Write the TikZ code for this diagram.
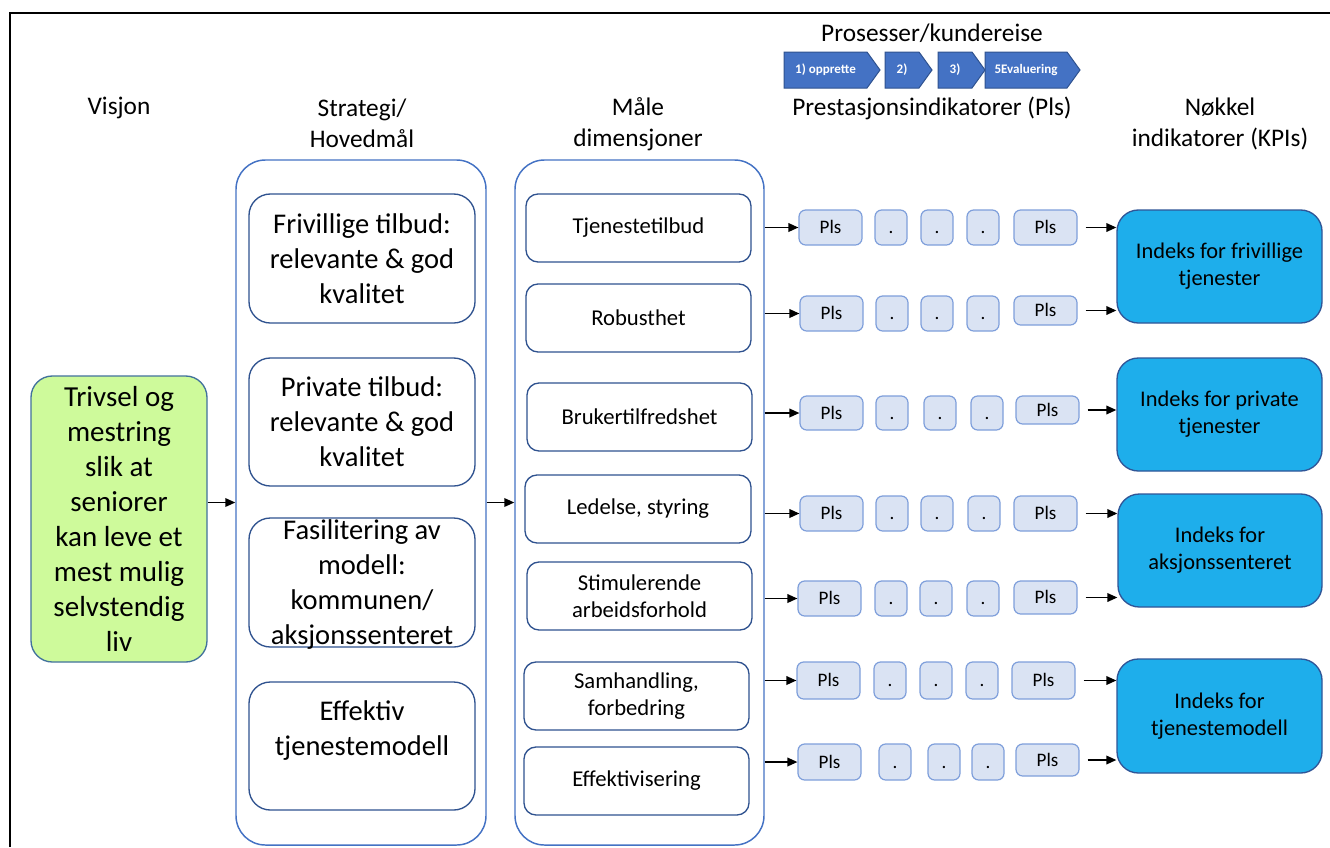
\documentclass[tikz,border=0pt]{standalone}
\usepackage{fontspec}
\setmainfont{Carlito}
\usetikzlibrary{arrows.meta}
\definecolor{frameblue}{HTML}{4472C4}
\definecolor{innerblue}{HTML}{2F528F}
\definecolor{greenfill}{HTML}{CEFA9B}
\definecolor{greenedge}{HTML}{41719C}
\definecolor{pifill}{HTML}{DAE3F3}
\definecolor{piedge}{HTML}{7F9FDB}
\definecolor{idxfill}{HTML}{1EAEEB}
\definecolor{idxedge}{HTML}{2F5597}
\definecolor{chevfill}{HTML}{4472C4}
\definecolor{chevedge}{HTML}{2F528F}
\newcommand\rbox[7][]{\node[#1, minimum width={(#5-#3)*0.75pt}, minimum height={(#6-#4)*0.75pt}] (#2) at ({(#3+#5)/2},{(#4+#6)/2}) {#7};}
\newcommand\pirow[9]{%
  \rbox[pibox]{p#1a}{#4}{#2}{#4+63}{#3}{Pls}
  \rbox[pibox]{p#1b}{#5}{#2}{#5+32}{#3}{.}
  \rbox[pibox]{p#1c}{#6}{#2}{#6+32}{#3}{.}
  \rbox[pibox]{p#1d}{#7}{#2}{#7+32}{#3}{.}
  \rbox[pibox]{p#1e}{#8}{#2+#9}{#8+63}{#3+#9}{Pls}
}
\newcommand\chev[4]{%
  \filldraw[fill=chevfill, draw=chevedge, line width=0.75pt] (#1,52) -- ({#2-13},52) -- (#2,70) -- ({#2-13},88) -- (#1,88) -- cycle;
  \node[chevtext] (#3) at ({(#1+#2-13)/2},70) {#4};}
\tikzset{
  hdr/.style={font=\fontsize{19}{23}\selectfont, align=center, inner sep=0},
  outerbox/.style={draw=frameblue, line width=1.1pt, rounded corners=22pt, inner sep=0},
  stratbox/.style={draw=innerblue, line width=1pt, rounded corners=16pt, align=center, inner sep=0, font=\fontsize{21.4}{26.25}\selectfont},
  stext/.style={align=center, inner sep=0, font=\fontsize{21.4}{26.25}\selectfont},
  dimbox/.style={draw=innerblue, line width=1pt, rounded corners=9pt, align=center, inner sep=0, font=\fontsize{17}{20.25}\selectfont},
  pibox/.style={draw=piedge, fill=pifill, line width=0.9pt, rounded corners=5pt, inner sep=0, text height=9.5pt, text depth=0.5pt, font=\fontsize{14.3}{17}\selectfont},
  idxbox/.style={draw=idxedge, fill=idxfill, line width=1pt, rounded corners=16pt, align=center, inner sep=0, font=\fontsize{16.8}{20.25}\selectfont},
  visionbox/.style={draw=greenedge, fill=greenfill, line width=1pt, rounded corners=16pt, align=center, inner sep=0, font=\fontsize{21.75}{26.25}\selectfont},
  arr/.style={-{Triangle[length=7.5pt,width=6.5pt]}, line width=1.1pt, black},
  chevtext/.style={text=white, font=\bfseries\fontsize{9.8}{11}\selectfont, inner sep=0},
}
\begin{document}
\begin{tikzpicture}[x=0.75pt, y=-0.75pt]
\useasboundingbox (0,0) rectangle (1330,847);
\fill[white] (0,0) rectangle (1330,847);
% frame
\draw[line width=2.2pt] (10,847) -- (10,13) -- (1330,13);
% headers
\node[hdr] (hVis) at (119,108) {Visjon};
\node[hdr] (hStr) at (362,123) {Strategi/\\Hovedmål};
\node[hdr] (hDim) at (638,124) {Måle\\dimensjoner};
\node[hdr] (hPro) at (932,33) {Prosesser/kundereise};
\node[hdr] (hPI) at (932,108) {Prestasjonsindikatorer (Pls)};
\node[hdr] (hKPI) at (1220,124) {Nøkkel\\indikatorer (KPIs)};
% chevrons
\chev{784}{880}{c1}{1) opprette}
\chev{885}{932}{c2}{2)}
\chev{938}{985}{c3}{3)}
\chev{985}{1080}{c4}{5Evaluering}
% vision
\rbox[visionbox]{vis}{31}{376}{207}{662}{Trivsel og\\mestring\\slik at\\seniorer\\kan leve et\\mest mulig\\selvstendig\\liv}
% strategy column
\rbox[outerbox]{strat}{236}{160}{486}{845}{}
\rbox[stratbox]{s1}{249}{194}{475}{323}{Frivillige tilbud:\\relevante \& god\\kvalitet}
\rbox[stratbox]{s2}{249}{358}{475}{486}{Private tilbud:\\relevante \& god\\kvalitet}
\rbox[stratbox]{s3}{249}{518}{475}{647}{}
\node[stext] (s3t) at (362,585) {Fasilitering av\\modell:\\kommunen/\\aksjonssenteret};
\rbox[stratbox]{s4}{249}{682}{475}{810}{}
\node[stext] (s4t) at (362,731) {Effektiv\\tjenestemodell};
% dimension column
\rbox[outerbox]{dim}{515}{160}{764}{845}{}
\rbox[dimbox]{d1}{526}{194}{751}{262}{Tjenestetilbud}
\rbox[dimbox]{d2}{526}{284}{751}{352}{Robusthet}
\rbox[dimbox]{d3}{527}{383}{752}{451}{Brukertilfredshet}
\rbox[dimbox]{d4}{525}{475}{751}{543}{Ledelse, styring}
\rbox[dimbox]{d5}{527}{562}{752}{630}{Stimulerende\\arbeidsforhold}
\rbox[dimbox]{d6}{524}{662}{749}{730}{Samhandling,\\forbedring}
\rbox[dimbox]{d7}{524}{747}{749}{815}{Effektivisering}
% PI rows
\pirow{1}{210}{245}{799}{875}{921}{967}{1014}{0}
\pirow{2}{296}{331}{800}{876}{921}{967}{1014}{(-3)}
\pirow{3}{396}{430}{800}{876}{924}{971}{1016}{(-3)}
\pirow{4}{496}{531}{800}{876}{921}{968}{1014}{0}
\pirow{5}{581}{616}{798}{875}{920}{967}{1014}{(-1)}
\pirow{6}{662}{699}{797}{874}{920}{966}{1012}{0}
\pirow{7}{744}{780}{798}{879}{928}{972}{1016}{(-2)}
% index boxes
\rbox[idxbox]{k1}{1117}{210}{1322}{323}{Indeks for frivillige\\tjenester}
\rbox[idxbox]{k2}{1117}{358}{1322}{471}{Indeks for private\\tjenester}
\rbox[idxbox]{k3}{1118}{494}{1322}{607}{Indeks for\\aksjonssenteret}
\rbox[idxbox]{k4}{1117}{659}{1322}{773}{Indeks for\\tjenestemodell}
% connectors
\draw[arr] (vis.east |- strat.west) -- (strat.west);
\draw[arr] (strat.east) -- (dim.west);
\foreach \r in {1,...,7}{
  \draw[arr] (dim.east |- p\r a.west) -- (p\r a.west);
}
\foreach \r/\k in {1/1,2/1,3/2,4/3,5/3,6/4,7/4}{
  \draw[arr] ([xshift=6pt]p\r e.east) -- (k\k.west |- p\r e.east);
}
\end{tikzpicture}
\end{document}
